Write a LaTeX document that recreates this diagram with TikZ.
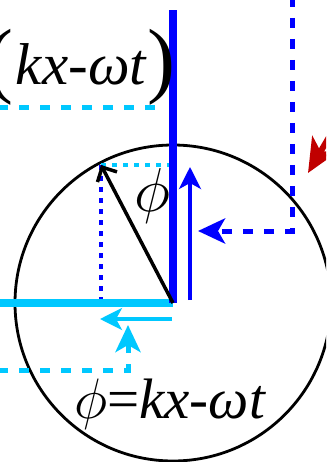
\RequirePackage{fix-cm}
\documentclass[tikz,border=0pt]{standalone}
\usepackage{fontspec}
\setmainfont{Liberation Serif}
\usetikzlibrary{arrows.meta}
\definecolor{wblue}{RGB}{0,0,255}
\definecolor{wcyan}{RGB}{0,200,255}
\definecolor{wred}{RGB}{192,0,0}
\begin{document}
\begin{tikzpicture}[x=1pt,y=-1pt,
  thickline/.style={line width=7.5pt},
  thinarrow/.style={line width=3.5pt,-{Stealth[length=22pt,width=22pt,inset=6pt]}},
  dasharrow/.style={line width=5pt,dash pattern=on 10pt off 11pt,-{Stealth[length=27pt,width=25pt,inset=7pt]}},
  dashline/.style={line width=5pt,dash pattern=on 10pt off 11pt},
  dotline/.style={line width=3.5pt,dash pattern=on 5pt off 6pt},
  lbl/.style={inner sep=0pt,anchor=base}]
\useasboundingbox (0,0) rectangle (326,462);
\clip (0,0) rectangle (326,462);
% points
\coordinate (O) at (173,303);
\coordinate (P) at (101,165);
\coordinate (Btop) at (173,10);
\coordinate (Cleft) at (-5,303);
\coordinate (Pv) at (173,165);
\coordinate (Ph) at (101,303);
\coordinate (vb1) at (190,300);
\coordinate (vb2) at (190,167);
\coordinate (db0) at (292,-3);
\coordinate (db1) at (292,231);
\coordinate (db2) at (198,231);
\coordinate (dc0) at (-2,370);
\coordinate (dc1) at (128,370);
\coordinate (dc2) at (128,325);
\coordinate (hc1) at (172,319);
\coordinate (hc2) at (100,319);
\coordinate (tc0) at (-2,108);
\coordinate (tc1) at (158,108);
\coordinate (r0) at (345,110);
\coordinate (r1) at (308,173);
% circle
\draw[line width=2.8pt] (O) circle[radius=158];
% projections
\draw[dotline,wcyan] (P) -- (Pv);
\draw[dotline,wblue] (P) -- (Ph);
% thick axes
\draw[thickline,wcyan] (Cleft) -- (O);
\draw[thickline,wblue] (O) -- (Btop);
% phasor
\draw[line width=3.5pt,-{Straight Barb[length=11pt,width=22pt,line width=3.5pt]}] (O) -- (P);
% thin arrows
\draw[thinarrow,wblue] (vb1) -- (vb2);
\draw[thinarrow,wcyan] (hc1) -- (hc2);
% dashed arrows
\draw[dasharrow,wblue] (db0) -- (db1) -- (db2);
\draw[dasharrow,wcyan] (dc0) -- (dc1) -- (dc2);
\draw[dashline,wcyan] (tc0) -- (tc1);
% red arrow
\draw[line width=6pt,wred,-{Stealth[length=34pt,width=30pt,inset=9pt]}] (r0) -- (r1);
% texts
\node[lbl,font=\fontsize{59}{59}\selectfont\itshape] (wave) at (81,85) {kx-ωt};
\node[lbl,font=\fontsize{84}{84}\selectfont] (lp) at (-1,88) {(};
\node[lbl,font=\fontsize{84}{84}\selectfont] (rp) at (161,88) {)};
\node[lbl,font=\fontsize{62}{62}\selectfont] (philbl) at (152,211) {$\phi$};
\node[lbl,font=\fontsize{57}{57}\selectfont] (eq) at (170,418) {$\phi$=\textit{kx}-\textit{ωt}};
\end{tikzpicture}
\end{document}
